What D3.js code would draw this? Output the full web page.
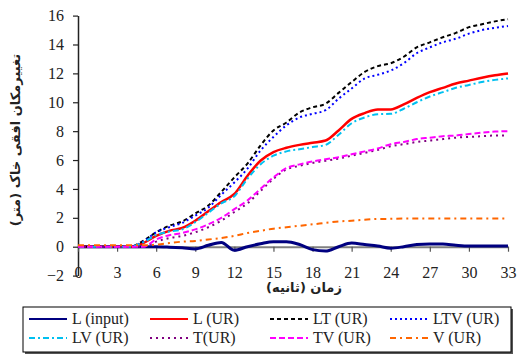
<!DOCTYPE html>
<html>
<head>
<meta charset="utf-8">
<script src="https://cdn.jsdelivr.net/npm/d3@7"></script>
<style>
  html, body { margin: 0; padding: 0; background: #fff; }
  svg { display: block; }
  .tick text { font-family: "Liberation Serif", serif; font-size: 16px; fill: #222; }
  .fa { font-family: "DejaVu Sans", sans-serif; }
</style>
</head>
<body>
<svg id="chart" width="517" height="356"></svg>
<script>
// Time (s)
const time = d3.range(0, 34);

// Horizontal soil displacement (m) for each case
const L_input = [0,0,0,0,0,0,0,-0.03,-0.08,-0.15,0.1,0.3,-0.25,0.0,0.2,0.35,0.35,0.15,-0.2,-0.3,0.0,0.25,0.15,0.05,-0.1,0.0,0.15,0.18,0.18,0.1,0.05,0.05,0.05,0.05];
const L_UR   = [0,0,0,0,0,0.25,0.75,1.1,1.3,1.8,2.45,3.1,3.65,4.9,5.95,6.55,6.85,7.05,7.2,7.35,8.05,8.85,9.25,9.5,9.5,9.85,10.3,10.7,11.0,11.3,11.5,11.7,11.87,12.0];
const LT_UR  = [0,0,0,0,0,0.4,1.0,1.45,1.75,2.3,2.85,3.8,4.8,5.75,7.0,8.05,8.6,9.3,9.65,9.9,10.65,11.4,12.1,12.5,12.7,13.15,13.8,14.15,14.5,14.8,15.2,15.4,15.6,15.75];
const LTV_UR = [0,0,0,0,0,0.35,1.0,1.35,1.65,2.15,2.7,3.6,4.45,5.4,6.65,7.6,8.4,8.95,9.2,9.45,10.25,10.95,11.65,11.9,12.2,12.7,13.4,13.8,14.15,14.4,14.75,15.0,15.15,15.28];
const LV_UR  = [0,0,0,0,0,0.3,0.8,1.05,1.2,1.7,2.35,3.0,3.5,4.7,5.7,6.3,6.6,6.75,6.9,7.05,7.75,8.55,8.95,9.17,9.2,9.55,10.0,10.4,10.7,11.0,11.2,11.4,11.55,11.65];
const T_UR   = [0,0,0,0,0,0,0.35,0.6,0.75,1.0,1.35,1.8,2.4,3.0,3.85,4.7,5.35,5.6,5.8,5.95,6.1,6.3,6.5,6.7,6.95,7.1,7.25,7.35,7.45,7.55,7.6,7.65,7.7,7.7];
const TV_UR  = [0,0,0,0,0,0,0.5,0.8,0.95,1.2,1.55,2.0,2.6,3.2,4.0,4.8,5.45,5.7,5.9,6.05,6.2,6.4,6.6,6.8,7.1,7.25,7.45,7.55,7.65,7.7,7.8,7.9,7.97,8.0];
const V_UR   = [0.1,0.1,0.1,0.1,0.1,0.1,0.15,0.25,0.35,0.4,0.5,0.6,0.75,0.95,1.1,1.25,1.35,1.45,1.55,1.65,1.75,1.8,1.87,1.92,1.93,1.95,1.95,1.95,1.95,1.95,1.95,1.95,1.95,1.95];

const seriesNames = ["L (input)", "L (UR)", "LT (UR)", "LTV (UR)", "LV (UR)", "T(UR)", "TV (UR)", "V (UR)"];
const seriesValues = [L_input, L_UR, LT_UR, LTV_UR, LV_UR, T_UR, TV_UR, V_UR];

const xTicks = d3.range(0, 34, 3);
const yTicks = d3.range(-2, 17, 2);

const yTitle = "تغییرمکان افقی خاک (متر)";
const xTitle = "زمان (ثانیه)";

// Line styles per series
const styles = [
  { color: "#000080", width: 3,   dash: null },
  { color: "#ff0000", width: 2.5, dash: null },
  { color: "#000000", width: 2,   dash: "4,3" },
  { color: "#0000ff", width: 2,   dash: "2,3" },
  { color: "#00c0f0", width: 2,   dash: "6,3,2,3" },
  { color: "#800080", width: 2,   dash: "2,4" },
  { color: "#ff00ff", width: 2,   dash: "6,3" },
  { color: "#ff6600", width: 2,   dash: "6,4,2,4" }
];

const svg = d3.select("#chart");

const x = d3.scaleLinear().domain([0, 33]).range([78, 508]);
const y = d3.scaleLinear().domain([-2, 16]).range([275.6, 15.6]);

// Y axis
const yAxis = svg.append("g")
  .attr("transform", `translate(${x(0)},0)`)
  .call(d3.axisLeft(y).tickValues(yTicks).tickSize(5).tickSizeOuter(0).tickPadding(9));
yAxis.select(".domain").attr("stroke", "#222").attr("stroke-width", 1.5);
yAxis.selectAll(".tick line").attr("stroke", "#222").attr("stroke-width", 1.2);

// X axis along the zero line
const xAxis = svg.append("g")
  .attr("transform", `translate(0,${y(0)})`)
  .call(d3.axisBottom(x).tickValues(xTicks).tickSize(5).tickSizeOuter(0).tickPadding(15));
xAxis.select(".domain").attr("stroke", "#808080").attr("stroke-width", 2);
xAxis.selectAll(".tick line").attr("stroke", "#555").attr("stroke-width", 1.2);

// Series lines
const line = d3.line()
  .x((d, i) => x(time[i]))
  .y(d => y(d))
  .curve(d3.curveMonotoneX);

seriesValues.forEach((vals, k) => {
  const s = styles[k];
  svg.append("path")
    .datum(vals)
    .attr("fill", "none")
    .attr("stroke", s.color)
    .attr("stroke-width", s.width)
    .attr("stroke-dasharray", s.dash)
    .attr("d", line);
});

// Axis titles
svg.append("text")
  .attr("class", "fa")
  .attr("transform", `translate(20,140) rotate(-90)`)
  .attr("text-anchor", "middle")
  .attr("direction", "rtl")
  .attr("font-size", 13)
  .attr("font-weight", "bold")
  .attr("fill", "#222")
  .text(yTitle);

svg.append("text")
  .attr("class", "fa")
  .attr("x", 304).attr("y", 292)
  .attr("text-anchor", "middle")
  .attr("direction", "rtl")
  .attr("font-size", 13)
  .attr("font-weight", "bold")
  .attr("fill", "#222")
  .text(xTitle);

// Legend
const lg = svg.append("g");
lg.append("rect").attr("x", 25).attr("y", 309).attr("width", 488).attr("height", 45).attr("fill", "#555");
lg.append("rect").attr("x", 23).attr("y", 307).attr("width", 488).attr("height", 45)
  .attr("fill", "#fff").attr("stroke", "#000").attr("stroke-width", 1);

const colX = [29, 150, 270, 390];
const rowY = [319, 338];
seriesNames.forEach((name, k) => {
  const cx = colX[k % 4], cy = rowY[Math.floor(k / 4)];
  const s = styles[k];
  lg.append("line")
    .attr("x1", cx).attr("x2", cx + 38).attr("y1", cy).attr("y2", cy)
    .attr("stroke", s.color)
    .attr("stroke-width", k === 0 ? 2 : 2)
    .attr("stroke-dasharray", s.dash);
  lg.append("text")
    .attr("x", cx + 43).attr("y", cy + 5)
    .attr("font-family", "Liberation Serif, serif")
    .attr("font-size", 16)
    .attr("fill", "#222")
    .text(name);
});
</script>
</body>
</html>
